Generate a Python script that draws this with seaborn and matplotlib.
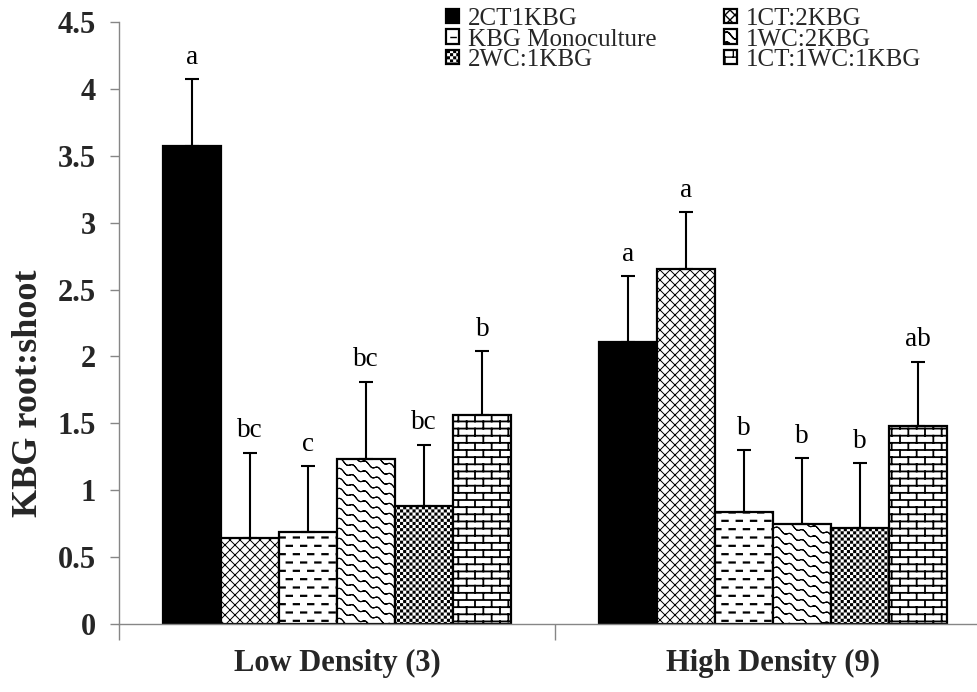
import numpy as np
import pandas as pd
import matplotlib
matplotlib.use("Agg")
import matplotlib.pyplot as plt
import matplotlib.hatch as mhatch
from matplotlib.path import Path
import seaborn as sns

# ---------------- data ----------------
densities = ["Low Density (3)", "High Density (9)"]
treatments = ["2CT1KBG", "1CT:2KBG", "KBG Monoculture",
              "1WC:2KBG", "2WC:1KBG", "1CT:1WC:1KBG"]
low_means = [3.57, 0.64, 0.69, 1.23, 0.88, 1.56]
high_means = [2.11, 2.65, 0.84, 0.75, 0.72, 1.48]
low_se = [0.50, 0.64, 0.49, 0.58, 0.46, 0.48]
high_se = [0.49, 0.43, 0.46, 0.49, 0.48, 0.48]
low_letters = ["a", "bc", "c", "bc", "bc", "b"]
high_letters = ["a", "a", "b", "b", "b", "ab"]
y_ticks = [0, 0.5, 1, 1.5, 2, 2.5, 3, 3.5, 4, 4.5]
y_tick_labels = ["0", "0.5", "1", "1.5", "2", "2.5", "3", "3.5", "4", "4.5"]

# ---------------- custom hatch styles ----------------
def _segments(segs):
    v = np.asarray(segs, float).reshape(-1, 2)
    c = np.tile([Path.MOVETO, Path.LINETO], len(v) // 2).astype(Path.code_type)
    return v, c


def _cross():
    n = 10
    segs = []
    for k in range(-n, n + 1):
        segs.append([(0, k / n), (1, 1 + k / n)])
    for k in range(0, 2 * n + 1):
        segs.append([(0, k / n), (1, k / n - 1)])
    return _segments(segs)


def _dashes():
    rows, cols, half = 12, 7, 0.026
    segs = []
    for j in range(rows):
        y = (j + 0.5) / rows
        off = 0.5 * (j % 2)
        for i in range(cols):
            xc = (i + 0.25 + off) / cols
            segs.append([(xc - half, y), (xc + half, y)])
    return _segments(segs)


def _waves():
    segs = []
    xs = np.linspace(0, 1, 97)
    for k in range(-2, 18):
        c = k / 10
        ys = c - 0.5 * xs + 0.016 * np.sin(2 * np.pi * 8 * xs)
        for a in range(len(xs) - 1):
            segs.append([(xs[a], ys[a]), (xs[a + 1], ys[a + 1])])
    return _segments(segs)


def _checker():
    m = 16
    s = 0.0085
    verts, codes = [], []
    for i in range(m):
        for j in range(m):
            for cx, cy in [((i + 0.25) / m, (j + 0.25) / m),
                           ((i + 0.75) / m, (j + 0.75) / m)]:
                verts += [(cx - s, cy - s), (cx + s, cy - s), (cx + s, cy + s),
                          (cx - s, cy + s), (cx - s, cy - s)]
                codes += [Path.MOVETO, Path.LINETO, Path.LINETO,
                          Path.LINETO, Path.CLOSEPOLY]
    return np.array(verts, float), np.array(codes, Path.code_type)


def _bricks():
    rows, cols = 14, 6
    segs = []
    for j in range(rows + 1):
        segs.append([(0, j / rows), (1, j / rows)])
    for j in range(rows):
        off = 0.5 * (j % 2)
        for i in range(cols + 1):
            x = (i + off) / cols
            segs.append([(x, j / rows), (x, (j + 1) / rows)])
    return _segments(segs)


def _make_hatch(char, builder):
    verts, codes = builder()

    class _H(mhatch.HatchPatternBase):
        def __init__(self, hatch, density):
            self.num_vertices = len(verts) if char in hatch else 0

        def set_vertices_and_codes(self, vertices, codes_out):
            vertices[:] = verts
            codes_out[:] = codes
    return _H


mhatch._hatch_types = [
    _make_hatch("x", _cross),
    _make_hatch("-", _dashes),
    _make_hatch("O", _waves),
    _make_hatch(".", _checker),
    _make_hatch("*", _bricks),
]

fill_colors = {t: "white" for t in treatments}
fill_colors["2CT1KBG"] = "black"
hatches = ["", "x", "-", "O", ".", "*"]
hatch_widths = [1.0, 0.7, 1.6, 0.8, 1.0, 1.3]

# ---------------- style ----------------
sns.set_theme(style="white")
plt.rcParams["font.family"] = ["Liberation Serif", "DejaVu Serif"]
plt.rcParams["hatch.linewidth"] = 1.0

fig = plt.figure(figsize=(9.77, 6.92), dpi=100)
ax = fig.add_axes([0.1218, 0.0983, 0.8925, 0.87])

df = pd.DataFrame({
    "density": np.repeat(densities, len(treatments)),
    "treatment": treatments * 2,
    "ratio": low_means + high_means,
})

sns.barplot(data=df, x="density", y="ratio", hue="treatment",
            order=densities, hue_order=treatments, palette=fill_colors,
            saturation=1, edgecolor="black", linewidth=1.6, errorbar=None,
            width=0.8, legend=False, ax=ax)

bar_conts = list(ax.containers)
se = [low_se, high_se]
letters = [low_letters, high_letters]
for ci, cont in enumerate(bar_conts):
    for bar in cont.patches:
        bar.set_hatch(hatches[ci])
        if hasattr(bar, "set_hatch_linewidth"):
            bar.set_hatch_linewidth(hatch_widths[ci])
    xs = [b.get_x() + b.get_width() / 2 for b in cont.patches]
    ys = [b.get_height() for b in cont.patches]
    errs = [se[k][ci] for k in range(len(densities))]
    ax.errorbar(xs, ys, yerr=[np.zeros(len(errs)), errs], fmt="none",
                ecolor="black", elinewidth=1.5, capsize=5, capthick=1.5)
    for k in range(len(densities)):
        ax.text(xs[k], ys[k] + errs[k] + 0.07, letters[k][ci],
                ha="center", va="bottom", fontsize=19.5, color="black")

ax.set_xlim(-0.5, 1.5)
ax.set_ylim(0, 4.5)
ax.set_yticks(y_ticks)
ax.set_yticklabels(y_tick_labels)
ax.set_xticks([0, 1])
ax.set_xticklabels(densities)
ax.set_xticks([-0.5, 0.5, 1.5], minor=True)
for lab in ax.get_xticklabels() + ax.get_yticklabels():
    lab.set_fontweight("bold")
    lab.set_fontsize(22)
ax.tick_params(axis="y", which="major", direction="out", length=6.5,
               width=1.0, color="#868686", pad=10, left=True)
ax.tick_params(axis="x", which="major", length=0, pad=18, bottom=True)
ax.tick_params(axis="x", which="minor", direction="out", length=11.5,
               width=1.0, color="#868686", bottom=True)

for side in ["top", "right"]:
    ax.spines[side].set_visible(False)
for side in ["left", "bottom"]:
    ax.spines[side].set_color("#868686")
    ax.spines[side].set_linewidth(1.0)

ax.set_xlabel("")
ax.set_ylabel("KBG root:shoot", fontsize=26, fontweight="bold")
ax.yaxis.set_label_coords(-0.085, 0.384)

order = [0, 2, 4, 1, 3, 5]
handles = [bar_conts[i].patches[0] for i in order]
labels = [treatments[i] for i in order]
fig.legend(handles, labels, ncol=2, loc="upper left",
           bbox_to_anchor=(446 / 977, 1 - 8 / 692),
           frameon=False, fontsize=18, handlelength=0.52, handleheight=0.52,
           handletextpad=0.35, columnspacing=2.7, labelspacing=-0.06,
           borderpad=0, borderaxespad=0)

fig.savefig("out.png", dpi=100)
